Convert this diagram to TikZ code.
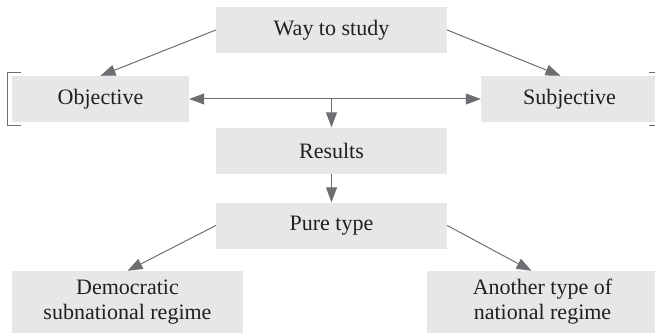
\documentclass[tikz,border=0pt]{standalone}
\usepackage{fontspec}
\setmainfont{Liberation Serif}
\usetikzlibrary{arrows.meta,calc}
\definecolor{boxgray}{HTML}{E6E7E8}
\definecolor{linegray}{HTML}{6D6E71}
\definecolor{textblack}{HTML}{231F20}

\begin{document}
\begin{tikzpicture}[x=1pt,y=-1pt,>={Triangle[length=15pt,width=11pt]},draw=linegray]
    \tikzstyle{box}=[rectangle,fill=boxgray,text=textblack,inner sep=0pt,minimum height=46pt,
                     font=\fontsize{22}{25}\selectfont,align=center]
    \tikzstyle{wide box}=[box,minimum width=231pt]
    \tikzstyle{side box}=[box,minimum width=177pt]
    \tikzstyle{tall box}=[wide box,minimum height=62pt]
    \tikzstyle{link}=[->,line width=1pt,draw=linegray]
    \useasboundingbox (0,0) rectangle (655,334);
    \clip (0,0) rectangle (655,334);
    % Draw the boxes
    \node[wide box] (way) at (331.5,30) {Way to study};
    \node[side box] (obj) at (100.5,99) {Objective};
    \node[side box] (subj) at (569.5,99) {Subjective};
    \node[wide box] (res) at (331.5,150.5) {Results};
    \node[wide box] (pure) at (331.5,225.5) {Pure type};
    \node[tall box] (demo) at (127.5,302) {Democratic\\subnational regime};
    \node[tall box] (other) at (542.5,302) {Another type of\\national regime};
    % Brackets beside the side boxes
    \draw[line width=0.8pt] (21,72) -- (7,72) -- (7,125) -- (21,125);
    \draw[line width=0.8pt] (649,72) -- (663,72) -- (663,125) -- (649,125);
    % Anchors for the slanted arrows
    \coordinate (subj-in) at ($(subj.north)+(-9,0)$);
    \coordinate (other-in) at ($(other.north)+(-11,0)$);
    \coordinate (split) at ($(obj.east)!0.5!(subj.west)$);
    % connect the boxes
    \draw[link] (way.west) -- (obj.north);
    \draw[link] (way.east) -- (subj-in);
    \draw[link,<->] (obj.east) -- (subj.west);
    \draw[link] (split -| res.north) -- (res.north);
    \draw[link] (res.south) -- (pure.north);
    \draw[link] (pure.west) -- (demo.north);
    \draw[link] (pure.east) -- (other-in);
\end{tikzpicture}
\end{document}
